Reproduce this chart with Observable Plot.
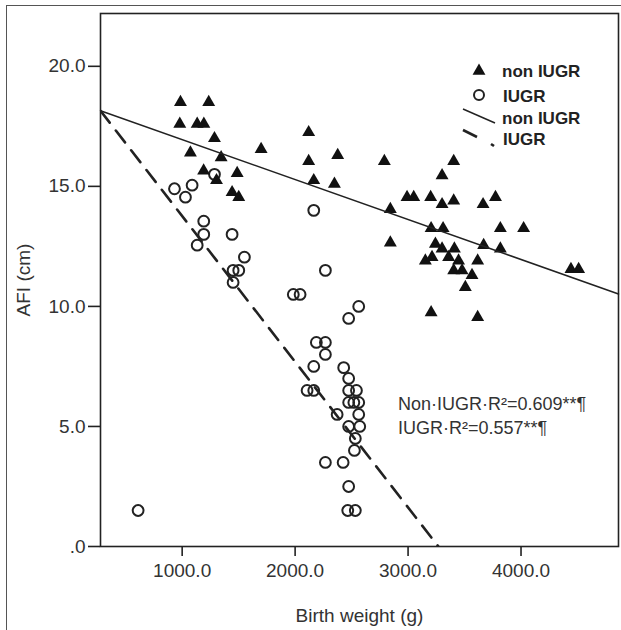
<!DOCTYPE html>
<html>
<head>
<meta charset="utf-8">
<script src="https://cdn.jsdelivr.net/npm/d3@7"></script>
<script src="https://cdn.jsdelivr.net/npm/@observablehq/plot@0.6"></script>
<style>
  html, body { margin: 0; padding: 0; background: #fff; }
  #wrap { position: relative; width: 621px; height: 630px; overflow: hidden; font-family: "Liberation Sans", Arial, sans-serif; }
  #outer { position: absolute; left: 6px; top: 5px; width: 800px; height: 800px; border-left: 1.6px solid #555; border-top: 1.6px solid #555; }
  #chart { position: absolute; left: 0; top: 0; }
  #legend { position: absolute; left: 0; top: 0; }
  .ann { position: absolute; left: 398px; font-size: 18px; color: #333; white-space: nowrap; }
</style>
</head>
<body>
<div id="wrap">
  <div id="outer"></div>
  <div id="chart"></div>
  <svg id="legend" width="621" height="630"></svg>
  <div class="ann" style="top:394px">Non·IUGR·R²=0.609**¶</div>
  <div class="ann" style="top:418px">IUGR·R²=0.557**¶</div>
</div>
<script>
// ---- Data ----
const nonIugrWeight = [985,1235,979,1133,1192,1286,1699,1073,1345,1190,1487,1304,1442,1501,
  2120,2120,2377,2790,3404,2165,2348,3301,2991,3050,3200,3301,3404,3664,3774,2843,
  3204,3310,3817,4023,2843,3242,3301,3410,3669,3817,3153,3212,3359,3447,3616,
  3404,3478,3566,3507,3204,3616,4442,4510];
const nonIugrAfi = [18.5,18.5,17.6,17.6,17.6,17.0,16.55,16.4,16.2,15.65,15.55,15.25,14.75,14.55,
  17.25,16.05,16.3,16.05,16.05,15.25,15.1,15.45,14.55,14.55,14.55,14.25,14.4,14.25,14.55,14.05,
  13.25,13.25,13.25,13.25,12.65,12.6,12.4,12.4,12.55,12.4,11.9,12.05,12.05,11.9,11.9,
  11.5,11.5,11.3,10.8,9.75,9.55,11.55,11.55];

const iugrWeight = [1286,1088,932,1029,1191,1191,1133,1442,1551,1451,1501,1451,
  2165,2268,1984,2044,2563,2474,2188,2268,2268,2165,2106,2165,2430,2474,2474,2543,
  2474,2520,2563,2372,2563,2474,2572,2533,2525,2268,2425,2474,2466,2533,610];
const iugrAfi = [15.5,15.05,14.9,14.55,13.55,13.0,12.55,13.0,12.05,11.5,11.5,11.0,
  14.0,11.5,10.5,10.5,10.0,9.5,8.5,8.5,8.0,7.5,6.5,6.5,7.45,7.0,6.5,6.5,
  6.0,6.0,6.0,5.5,5.5,5.0,5.0,4.5,4.0,3.5,3.5,2.5,1.5,1.5,1.5];

// fitted lines (intercept, slope)
const fitGroups = ["non IUGR", "IUGR"];
const fitIntercept = [18.61, 19.83];
const fitSlope = [-0.001664, -0.006068];

const xTicks = [1000, 2000, 3000, 4000];
const yTicks = [0, 5, 10, 15, 20];
const xDomain = [277, 4863];
const yDomain = [0, 22.2];

// ---- Build tables ----
const nonIugr = nonIugrWeight.map((w, i) => ({w, afi: nonIugrAfi[i]}));
const iugr = iugrWeight.map((w, i) => ({w, afi: iugrAfi[i]}));
const fitLine = g => xDomain.map(w => ({w, afi: fitIntercept[g] + fitSlope[g] * w}));

const ink = "#222";
const chart = Plot.plot({
  width: 621,
  height: 630,
  marginLeft: 100,
  marginTop: 13,
  marginRight: 3,
  marginBottom: 84,
  style: {fontFamily: "'Liberation Sans', Arial, sans-serif", fontSize: "19px", color: "#333", background: "transparent"},
  x: {domain: xDomain},
  y: {domain: yDomain},
  marks: [
    Plot.frame({stroke: ink, strokeWidth: 1.6}),
    Plot.axisX({ticks: xTicks, tickFormat: d => d.toFixed(1), tickSize: 10, tickPadding: 7,
      stroke: ink, strokeWidth: 1.6, fontSize: 19, label: "Birth weight (g)", labelAnchor: "center",
      labelArrow: "none", labelOffset: 75}),
    Plot.axisY({ticks: yTicks, tickFormat: d => d === 0 ? ".0" : d.toFixed(1), tickSize: 12, tickPadding: 3,
      stroke: ink, strokeWidth: 1.6, fontSize: 19, label: "AFI (cm)", labelAnchor: "center",
      labelArrow: "none", labelOffset: 84}),
    Plot.dot(iugr, {x: "w", y: "afi", symbol: "circle", r: 5.4, fill: "none", stroke: ink, strokeWidth: 2}),
    Plot.dot(nonIugr, {x: "w", y: "afi", symbol: "triangle", r: 4.8, fill: "#111", stroke: "none"}),
    Plot.line(fitLine(0), {x: "w", y: "afi", stroke: ink, strokeWidth: 1.5}),
    Plot.line(fitLine(1), {x: "w", y: "afi", stroke: ink, strokeWidth: 2.6, strokeDasharray: "15,10", clip: true})
  ]
});
document.getElementById("chart").appendChild(chart);

// ---- Legend (top right, inside plot) ----
const lg = d3.select("#legend");
const tri = d3.symbol(d3.symbolTriangle, 72)();
lg.append("path").attr("d", tri).attr("transform", "translate(479,71)").attr("fill", "#111");
lg.append("circle").attr("cx", 479).attr("cy", 95).attr("r", 5).attr("fill", "none").attr("stroke", ink).attr("stroke-width", 2);
lg.append("line").attr("x1", 463).attr("y1", 109).attr("x2", 495).attr("y2", 123).attr("stroke", ink).attr("stroke-width", 1.5);
lg.append("line").attr("x1", 463).attr("y1", 130).attr("x2", 477).attr("y2", 137).attr("stroke", ink).attr("stroke-width", 2.6);
lg.append("line").attr("x1", 491).attr("y1", 144).attr("x2", 494).attr("y2", 146).attr("stroke", ink).attr("stroke-width", 2.6);
const legendLabels = ["non IUGR", "IUGR", "non IUGR", "IUGR"];
const legendY = [77, 102, 124, 145];
lg.selectAll("text.lt").data(legendLabels).join("text")
  .attr("class", "lt")
  .attr("x", (d, i) => i === 0 || i === 2 ? 502 : 503)
  .attr("y", (d, i) => legendY[i])
  .attr("font-family", "'Liberation Sans', Arial, sans-serif")
  .attr("font-weight", "bold")
  .attr("font-size", 17)
  .attr("fill", ink)
  .text(d => d);
</script>
</body>
</html>
